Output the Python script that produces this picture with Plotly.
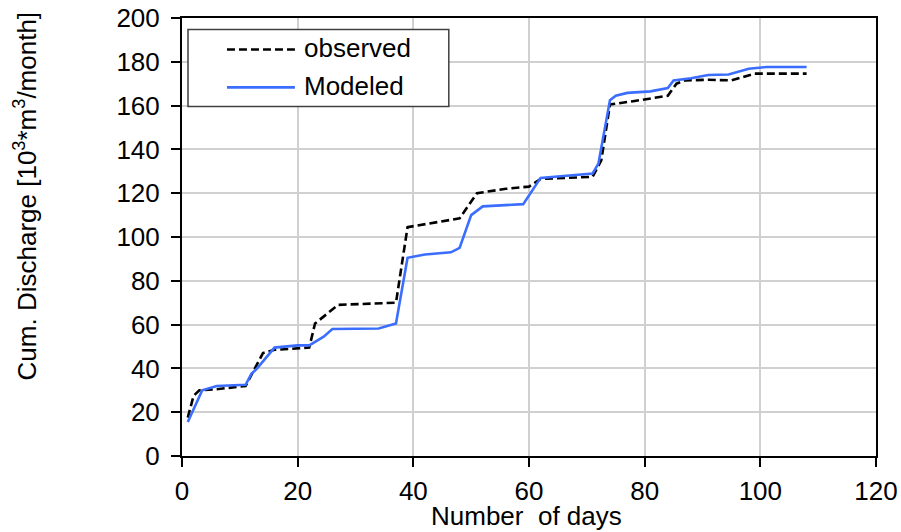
import plotly.graph_objects as go

# Observed cumulative discharge
obs_days = [1, 2, 3, 6, 11, 12, 14, 16, 22, 23, 27, 37, 39, 48, 51, 56, 60, 62, 71, 72.5, 74, 78, 84, 85.5, 87, 91, 95, 99, 108]
obs_vals = [17.5, 27.5, 30, 30.5, 32, 37, 47, 48.5, 49.5, 60.5, 69, 70, 104.5, 108.5, 120, 122, 123, 126.5, 127.5, 135, 160.5, 162, 164.5, 170, 171.5, 171.8, 171.5, 174.6, 174.6]

# Modeled cumulative discharge
mod_days = [1, 3.5, 6, 11, 12, 13, 16, 20, 22, 24.5, 26, 29, 34, 37, 39, 42, 46.5, 48, 50, 52, 59, 62, 71, 72, 74, 75, 77, 81, 84, 85, 88, 91, 94.5, 98, 101, 108]
mod_vals = [15.5, 30, 32, 32.5, 37.5, 40, 49.5, 50.5, 50.5, 54.5, 58, 58.2, 58.2, 60.5, 90.5, 92, 93, 95, 110, 114, 115, 127, 129, 133.5, 162.5, 164.5, 165.8, 166.5, 168, 171.5, 172.5, 174, 174.2, 176.8, 177.6, 177.6]

x_ticks = [0, 20, 40, 60, 80, 100, 120]
y_ticks = [0, 20, 40, 60, 80, 100, 120, 140, 160, 180, 200]

FONT = "Liberation Sans, Arial, sans-serif"
FS = 26
BLUE = "#3B6EFF"
LW = 2.6
DASH = "8px,4px"

fig = go.Figure()
fig.add_trace(go.Scatter(x=obs_days, y=obs_vals, mode="lines", name="observed",
                         line=dict(color="black", width=LW, dash=DASH), showlegend=False))
fig.add_trace(go.Scatter(x=mod_days, y=mod_vals, mode="lines", name="Modeled",
                         line=dict(color=BLUE, width=LW), showlegend=False))

W, H = 901, 532
L, T = 182, 17.5
R = W - 876.5
B = H - 456
pw, ph = W - L - R, H - T - B

def px(xp):
    return (xp - L) / pw

def py(yp):
    return (H - B - yp) / ph

# manual legend
shapes = [
    dict(type="rect", xref="paper", yref="paper", x0=px(188), x1=px(449), y0=py(106), y1=py(29),
         line=dict(color="#404040", width=1.5), fillcolor="white", layer="above"),
    dict(type="line", xref="paper", yref="paper", x0=px(227), x1=px(295), y0=py(49), y1=py(49),
         line=dict(color="black", width=LW, dash=DASH), layer="above"),
    dict(type="line", xref="paper", yref="paper", x0=px(227), x1=px(295), y0=py(87), y1=py(87),
         line=dict(color=BLUE, width=LW), layer="above"),
]
annotations = [
    dict(xref="paper", yref="paper", x=px(302), y=py(48), text="observed", showarrow=False,
         xanchor="left", yanchor="middle", font=dict(family=FONT, size=FS, color="black")),
    dict(xref="paper", yref="paper", x=px(302), y=py(86), text="Modeled", showarrow=False,
         xanchor="left", yanchor="middle", font=dict(family=FONT, size=FS, color="black")),
    dict(xref="paper", yref="paper", x=px(25), y=py(196), text="Cum. Discharge [10<sup>3</sup>*m<sup>3</sup>/month]",
         showarrow=False, textangle=-90, xanchor="center", yanchor="middle",
         font=dict(family=FONT, size=FS, color="black")),
    dict(xref="paper", yref="paper", x=px(527), y=py(516), text="Number\u00a0 of days",
         showarrow=False, xanchor="center", yanchor="middle",
         font=dict(family=FONT, size=FS, color="black")),
]

fig.update_layout(
    width=W, height=H,
    margin=dict(l=L, r=R, t=T, b=B, pad=0, autoexpand=False),
    paper_bgcolor="white", plot_bgcolor="white",
    font=dict(family=FONT, size=FS, color="black"),
    shapes=shapes, annotations=annotations,
    showlegend=False,
)
fig.update_xaxes(range=[0, 120], tickvals=x_ticks, ticktext=[str(v) for v in x_ticks],
                 showgrid=True, gridcolor="#D0D0D0", gridwidth=1.5,
                 showline=True, linecolor="black", linewidth=2, mirror=True,
                 ticks="outside", ticklen=9, tickwidth=1.5, tickcolor="black",
                 zeroline=False, automargin=False, ticklabelstandoff=2,
                 ticklabeloverflow="allow")
fig.update_yaxes(range=[0, 200], tickvals=y_ticks, ticktext=[str(v) for v in y_ticks],
                 showgrid=True, gridcolor="#D0D0D0", gridwidth=1.5,
                 showline=True, linecolor="black", linewidth=2, mirror=True,
                 ticks="outside", ticklen=9, tickwidth=1.5, tickcolor="black",
                 zeroline=False, automargin=False, ticklabelstandoff=6,
                 ticklabeloverflow="allow")

fig.write_html("out.html", config={"displayModeBar": False},
               post_script="document.body.style.margin='0';document.body.style.overflow='hidden';")
